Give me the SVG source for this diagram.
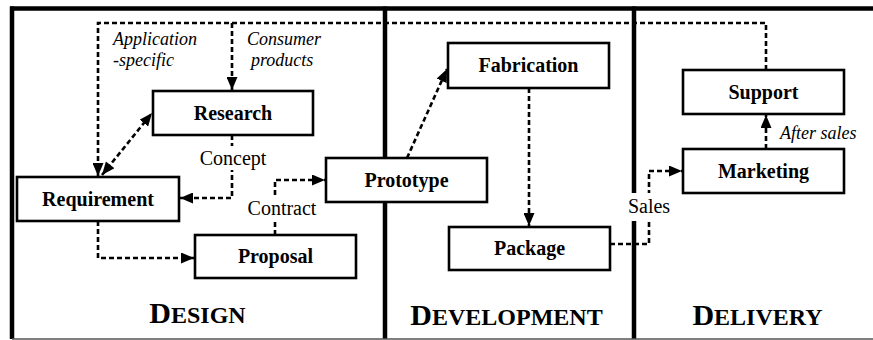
<svg xmlns="http://www.w3.org/2000/svg" width="873" height="340" viewBox="0 0 873 340">
  <style>
    .box { fill: #fff; stroke: #000; stroke-width: 2.6; }
    .name { font-family: "Liberation Serif", "Times New Roman", serif; font-weight: bold; font-size: 20px; text-anchor: middle; }
    .flow { fill: none; stroke: #000; stroke-width: 2.6; stroke-dasharray: 5 3; }
    .tag { font-family: "Liberation Serif", "Times New Roman", serif; font-size: 20px; text-anchor: middle; }
    .note { font-family: "Liberation Serif", "Times New Roman", serif; font-style: italic; font-size: 18px; }
    .phase { font-family: "Liberation Serif", "Times New Roman", serif; font-weight: bold; font-size: 24px; text-anchor: middle; }
    .wall { stroke: #000; stroke-width: 4.5; fill: none; }
  </style>
  <defs>
    <marker id="head" markerUnits="userSpaceOnUse" markerWidth="14" markerHeight="11" refX="13" refY="5.5" orient="auto">
      <path d="M0,0 L13,5.5 L0,11 z" fill="#000"/>
    </marker>
    <marker id="tail" markerUnits="userSpaceOnUse" markerWidth="14" markerHeight="11" refX="0" refY="5.5" orient="auto">
      <path d="M13,0 L0,5.5 L13,11 z" fill="#000"/>
    </marker>
  </defs>
  <rect width="873" height="340" fill="#fff"/>

  <!-- phase frame -->
  <g id="frame">
    <line class="wall" x1="10" y1="8.5" x2="873" y2="8.5"/>
    <line class="wall" x1="12" y1="6.5" x2="12" y2="339"/>
    <line class="wall" x1="385" y1="6.5" x2="385" y2="339"/>
    <line class="wall" x1="634" y1="6.5" x2="634" y2="339"/>
    <line x1="12" y1="339" x2="873" y2="339" stroke="#555" stroke-width="1.5"/>
  </g>

  <!-- connectors -->
  <g id="connectors">
    <path class="flow" d="M766,70 V23 H98 V176" marker-end="url(#head)"/>
    <path class="flow" d="M232,23 V90" marker-end="url(#head)"/>
    <path class="flow" d="M102,175 L152,113" marker-start="url(#tail)" marker-end="url(#head)"/>
    <path class="flow" d="M232,135 V198 H180" marker-end="url(#head)"/>
    <path class="flow" d="M98,221 V258 H194" marker-end="url(#head)"/>
    <path class="flow" d="M275,235 V180 H325" marker-end="url(#head)"/>
    <path class="flow" d="M407,158 L447,69" marker-end="url(#head)"/>
    <path class="flow" d="M529,88 V226" marker-end="url(#head)"/>
    <path class="flow" d="M610,244 H649 V171 H682" marker-end="url(#head)"/>
    <path class="flow" d="M766,149 V115" marker-end="url(#head)"/>
  </g>

  <!-- connector labels -->
  <g id="labels">
    <rect x="198" y="146" width="70" height="24" fill="#fff"/>
    <text class="tag" x="233" y="165">Concept</text>
    <rect x="246" y="198" width="72" height="22" fill="#fff"/>
    <text class="tag" x="282" y="215">Contract</text>
    <rect x="625" y="193" width="47" height="28" fill="#fff"/>
    <text class="tag" x="649" y="213">Sales</text>
    <text class="note" x="113" y="45">Application</text>
    <text class="note" x="113" y="66">-specific</text>
    <text class="note" x="247" y="45">Consumer</text>
    <text class="note" x="251" y="66">products</text>
    <text class="note" x="780" y="139">After sales</text>
  </g>

  <g id="research">
    <rect class="box" x="153" y="91" width="160" height="44"/>
    <text class="name" x="233" y="120">Research</text>
  </g>
  <g id="requirement">
    <rect class="box" x="17" y="177" width="162" height="44"/>
    <text class="name" x="98" y="206">Requirement</text>
  </g>
  <g id="proposal">
    <rect class="box" x="195" y="235" width="161" height="43"/>
    <text class="name" x="275.5" y="263">Proposal</text>
  </g>
  <g id="prototype">
    <rect class="box" x="326" y="158" width="161" height="44"/>
    <text class="name" x="406.5" y="187">Prototype</text>
  </g>
  <g id="fabrication">
    <rect class="box" x="448" y="43" width="161" height="45"/>
    <text class="name" x="528.5" y="72">Fabrication</text>
  </g>
  <g id="package">
    <rect class="box" x="449" y="227" width="161" height="43"/>
    <text class="name" x="529.5" y="255">Package</text>
  </g>
  <g id="support">
    <rect class="box" x="683" y="70" width="161" height="44"/>
    <text class="name" x="763.5" y="99">Support</text>
  </g>
  <g id="marketing">
    <rect class="box" x="683" y="149" width="161" height="44"/>
    <text class="name" x="763.5" y="178">Marketing</text>
  </g>

  <!-- phase titles -->
  <g id="phases">
    <text class="phase" x="197.5" y="323"><tspan font-size="30">D</tspan>ESIGN</text>
    <text class="phase" x="506.5" y="325"><tspan font-size="30">D</tspan>EVELOPMENT</text>
    <text class="phase" x="757.5" y="325"><tspan font-size="30">D</tspan>ELIVERY</text>
  </g>
</svg>
